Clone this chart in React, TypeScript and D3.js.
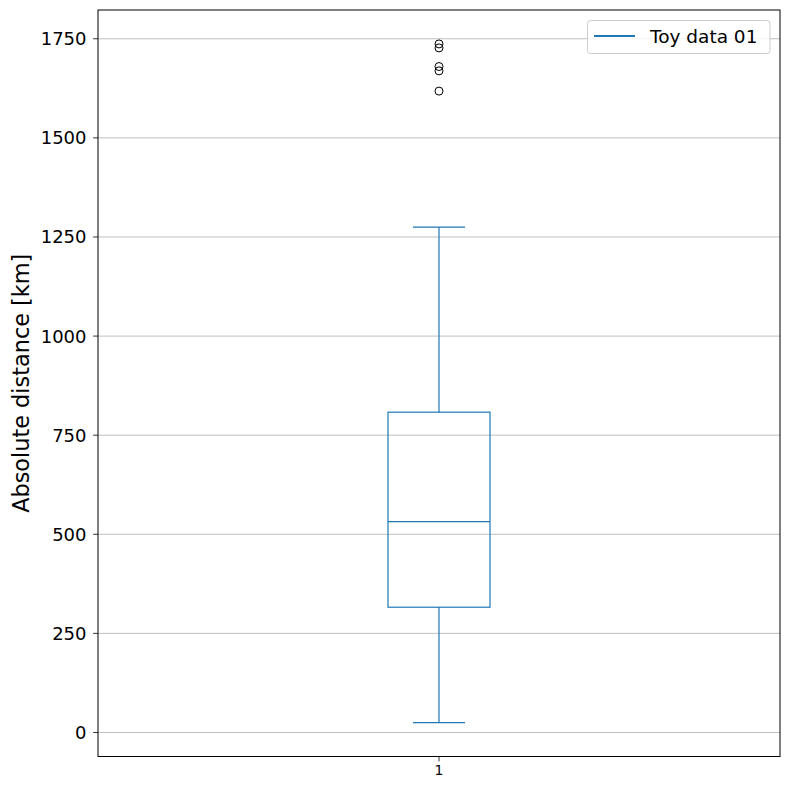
import React from "react";
import * as d3 from "d3";

const categories = ["1"];
const seriesName = "Toy data 01";
// box stats: [whiskerLow, q1, median, q3, whiskerHigh]
const boxStats = [25, 316, 532, 808, 1275];
const outliers = [1618, 1669, 1680, 1727, 1737];
const yTicks = [0, 250, 500, 750, 1000, 1250, 1500, 1750];

const W = 790, H = 790;
const left = 98, right = 780, top = 10, bottom = 756.5;
const BLUE = "#1f77b4";
const FONT = "DejaVu Sans, sans-serif";

export default function App() {
  const allVals = [boxStats[0], boxStats[4], ...outliers];
  const lo = d3.min(allVals)!, hi = d3.max(allVals)!;
  const pad = (hi - lo) * 0.05;
  const y = d3.scaleLinear().domain([lo - pad, hi + pad]).range([bottom, top]);
  const x = d3.scaleBand().domain(categories).range([left, right]);
  const cx = x(categories[0])! + x.bandwidth() / 2;
  const boxW = 102;
  const capW = 52;
  const [wl, q1, med, q3, wh] = boxStats;

  return (
    <svg width={W} height={H} style={{ position: "absolute", left: 0, top: 0 }} fontFamily={FONT}>
      <rect x={0} y={0} width={W} height={H} fill="white" />
      {yTicks.map((t) => (
        <line key={"g" + t} x1={left} x2={right} y1={y(t)} y2={y(t)} stroke="#b0b0b0" strokeWidth={0.8} />
      ))}
      {/* whiskers */}
      <g stroke={BLUE} strokeWidth={1.2} fill="none">
        <line x1={cx} x2={cx} y1={y(q3)} y2={y(wh)} />
        <line x1={cx} x2={cx} y1={y(q1)} y2={y(wl)} />
        <line x1={cx - capW / 2} x2={cx + capW / 2} y1={y(wh)} y2={y(wh)} />
        <line x1={cx - capW / 2} x2={cx + capW / 2} y1={y(wl)} y2={y(wl)} />
        <rect x={cx - boxW / 2} y={y(q3)} width={boxW} height={y(q1) - y(q3)} />
        <line x1={cx - boxW / 2} x2={cx + boxW / 2} y1={y(med)} y2={y(med)} />
      </g>
      {outliers.map((o, i) => (
        <circle key={"o" + i} cx={cx} cy={y(o)} r={4} fill="none" stroke="black" strokeWidth={1} />
      ))}
      {/* axes frame */}
      <rect x={left} y={top} width={right - left} height={bottom - top} fill="none" stroke="black" strokeWidth={1} />
      {/* y ticks */}
      {yTicks.map((t) => (
        <g key={"t" + t}>
          <line x1={left - 4.9} x2={left} y1={y(t)} y2={y(t)} stroke="black" strokeWidth={0.8} />
          <text x={left - 11.5} y={y(t)} dy="0.36em" textAnchor="end" fontSize={18} fill="black">{t}</text>
        </g>
      ))}
      {/* x ticks */}
      {categories.map((c) => (
        <g key={"x" + c}>
          <line x1={cx} x2={cx} y1={bottom} y2={bottom + 4.9} stroke="black" strokeWidth={0.8} />
          <text x={cx} y={bottom + 8} dy="0.76em" textAnchor="middle" fontSize={13.9} fill="black">{c}</text>
        </g>
      ))}
      <text transform={`translate(28.5,${(top + bottom) / 2}) rotate(-90)`} textAnchor="middle" fontSize={22.4} fill="black">
        Absolute distance [km]
      </text>
      {/* legend */}
      <g>
        <rect x={587.5} y={20.5} width={182.5} height={33} rx={3} fill="white" fillOpacity={0.8} stroke="#cccccc" strokeWidth={1} />
        <line x1={594} x2={635} y1={36} y2={36} stroke={BLUE} strokeWidth={2} />
        <text x={650} y={36} dy="0.36em" fontSize={18.5} fill="black">{seriesName}</text>
      </g>
    </svg>
  );
}
